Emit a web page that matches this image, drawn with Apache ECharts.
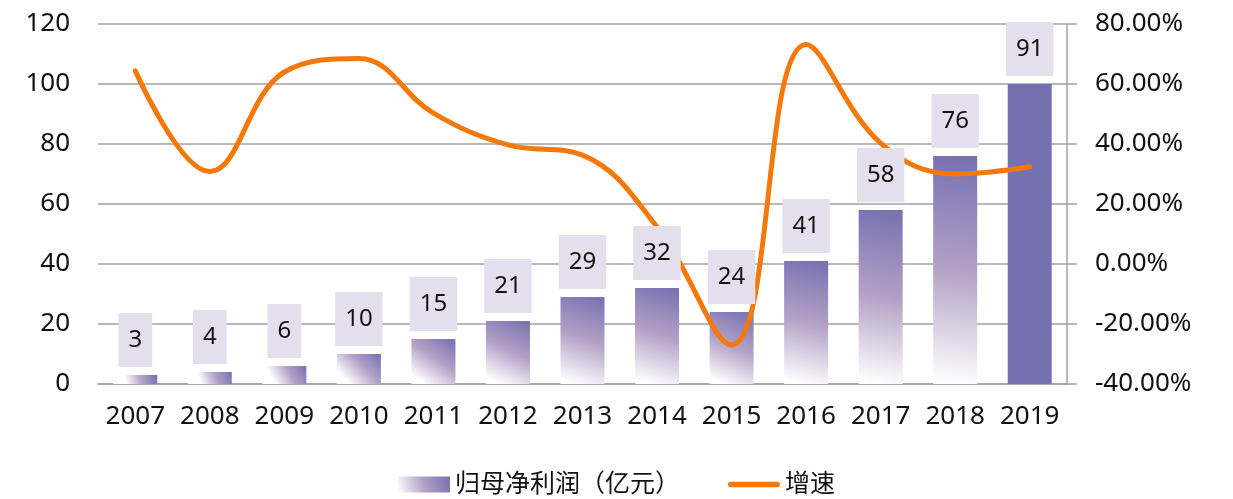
<!DOCTYPE html>
<html>
<head>
<meta charset="utf-8">
<script src="https://cdn.jsdelivr.net/npm/echarts@6/dist/echarts.min.js"></script>
<style>
html,body{margin:0;padding:0;background:#fff;}
#chart{width:1233px;height:499px;}
</style>
</head>
<body>
<div id="chart"></div>
<script>
var years = ['2007','2008','2009','2010','2011','2012','2013','2014','2015','2016','2017','2018','2019'];
var profit = [3, 4, 6, 10, 15, 21, 29, 32, 24, 41, 58, 76, 100];
var profitLabels = ['3','4','6','10','15','21','29','32','24','41','58','76','91'];
var growth = [64.4, 30.8, 64.0, 68.5, 50.3, 39.7, 36.3, 12.3, -27.0, 73.2, 40.3, 30.0, 32.4];
var leftTicks = {min: 0, max: 120, interval: 20};
var rightTicks = {min: -40, max: 80, interval: 20};

var FONT = '"Noto Sans", "Noto Sans CJK SC", sans-serif';
var gridColor = '#a0a0a0';
var barGradient = {
  type: 'linear', x: 1, y: 0, x2: 0.3, y2: 1,
  colorStops: [
    {offset: 0, color: '#7670b1'},
    {offset: 0.5, color: '#b3a0c6'},
    {offset: 1, color: '#ffffff'}
  ]
};
var legendBarGradient = {
  type: 'linear', x: 0, y: 1, x2: 1, y2: 0,
  colorStops: [
    {offset: 0, color: '#ffffff'},
    {offset: 0.5, color: '#b3a0c6'},
    {offset: 1, color: '#7670b1'}
  ]
};

var barData = profit.map(function (v, i) {
  if (i === profit.length - 1) {
    return {value: v, itemStyle: {color: '#7570b0'}};
  }
  return v;
});

var chart = echarts.init(document.getElementById('chart'));
chart.setOption({
  animation: false,
  textStyle: {fontFamily: FONT},
  grid: {left: 98, right: 166, top: 24, bottom: 115},
  legend: {
    data: [
      {name: '归母净利润（亿元）', icon: 'rect', itemStyle: {color: legendBarGradient}},
      {name: '增速', icon: 'path://M3,0 L53,0 A3,3 0 0 1 53,6 L3,6 A3,3 0 0 1 3,0 Z', itemStyle: {color: '#f5780a'}}
    ],
    left: 'center',
    top: 467,
    itemWidth: 52,
    itemHeight: 16,
    itemGap: 48,
    textStyle: {fontSize: 25, color: '#111', fontFamily: FONT}
  },
  xAxis: {
    type: 'category',
    data: years,
    axisLine: {show: true, lineStyle: {color: gridColor, width: 1.5}},
    axisTick: {show: false},
    axisLabel: {fontSize: 26, color: '#111', margin: 20, interval: 0}
  },
  yAxis: [
    {
      type: 'value',
      min: leftTicks.min, max: leftTicks.max, interval: leftTicks.interval,
      axisLine: {show: false},
      axisTick: {show: false},
      axisLabel: {fontSize: 26, color: '#111', margin: 28},
      splitLine: {show: true, lineStyle: {color: gridColor, width: 1.5}}
    },
    {
      type: 'value',
      min: rightTicks.min, max: rightTicks.max, interval: rightTicks.interval,
      position: 'right',
      axisLine: {show: true, lineStyle: {color: gridColor, width: 1.5}},
      axisTick: {show: true, length: 10, lineStyle: {color: gridColor, width: 1.5}},
      axisLabel: {
        fontSize: 26, color: '#111', margin: 28,
        formatter: function (v) { return v.toFixed(2) + '%'; }
      },
      splitLine: {show: false}
    }
  ],
  series: [
    {
      name: '归母净利润（亿元）',
      type: 'bar',
      yAxisIndex: 0,
      barWidth: 44,
      barGap: '-100%',
      z: 2,
      itemStyle: {color: barGradient},
      data: barData
    },
    {
      name: '增速',
      type: 'line',
      yAxisIndex: 1,
      smooth: 0.4,
      symbol: 'none',
      z: 3,
      lineStyle: {color: '#f5780a', width: 5, cap: 'round'},
      itemStyle: {color: '#f5780a'},
      data: growth
    },
    {
      name: 'labels',
      type: 'bar',
      yAxisIndex: 0,
      barWidth: 44,
      barGap: '-100%',
      z: 4,
      silent: true,
      itemStyle: {color: 'rgba(0,0,0,0)'},
      label: {
        show: true,
        position: 'top',
        distance: 8,
        fontSize: 24,
        lineHeight: 24,
        color: '#111',
        backgroundColor: '#e4dfec',
        padding: [15, 10],
        formatter: function (p) { return profitLabels[p.dataIndex]; }
      },
      data: profit
    }
  ]
});
</script>
</body>
</html>
